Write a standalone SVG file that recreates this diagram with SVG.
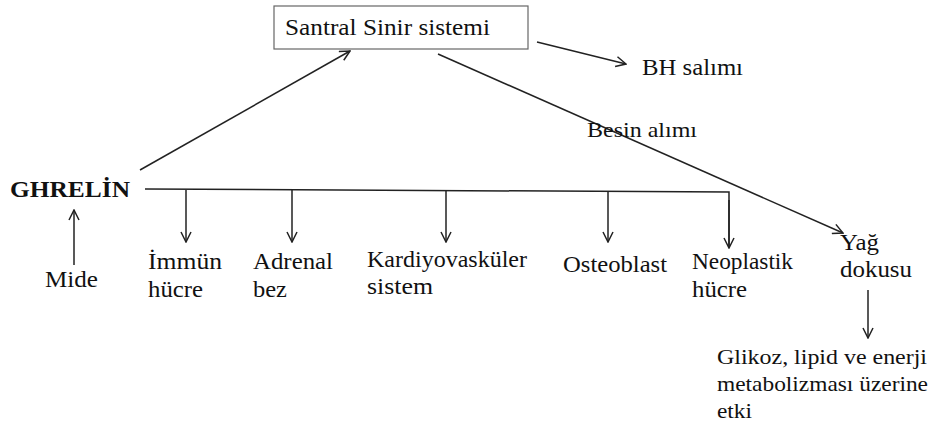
<svg xmlns="http://www.w3.org/2000/svg" width="940" height="425" viewBox="0 0 940 425">
<defs>
<style>
text{font-family:"Liberation Serif","Times New Roman",serif;fill:#111;font-size:24px}
.s{font-size:22px}
.b{font-weight:bold}
.c{stroke:#222;stroke-width:1.5;fill:none}
.a{marker-end:url(#ah)}
</style>
<marker id="ah" viewBox="0 0 12 12" refX="11" refY="6" markerWidth="12" markerHeight="12" markerUnits="userSpaceOnUse" orient="auto">
<path d="M1,1 L11,6 L1,11" fill="none" stroke="#222" stroke-width="1.5"/>
</marker>
</defs>
<rect width="940" height="425" fill="#fff"/>
<g id="connectors">
<line class="c a" x1="140" y1="170" x2="350" y2="51"/>
<line class="c a" x1="537" y1="42" x2="626" y2="64"/>
<line class="c a" x1="438" y1="54" x2="843" y2="233"/>
<polyline class="c" points="145,189 729,192 729,247"/>
<line class="c a" x1="729" y1="200" x2="729" y2="248"/>
<line class="c a" x1="186" y1="190" x2="186" y2="242"/>
<line class="c a" x1="292" y1="190" x2="292" y2="242"/>
<line class="c a" x1="446" y1="191" x2="446" y2="242"/>
<line class="c a" x1="608" y1="191" x2="608" y2="242"/>
<line class="c a" x1="74" y1="265" x2="74" y2="210"/>
<line class="c a" x1="868" y1="290" x2="868" y2="338"/>
</g>
<g id="ssn">
<rect x="274" y="6" width="254" height="43" fill="#fff" stroke="#666" stroke-width="1.2"/>
<text x="285" y="35" textLength="205" lengthAdjust="spacingAndGlyphs">Santral Sinir sistemi</text>
</g>
<g id="bh"><text x="642" y="75" textLength="101" lengthAdjust="spacingAndGlyphs">BH salımı</text></g>
<g id="besin"><text class="s" x="587" y="137" textLength="110" lengthAdjust="spacingAndGlyphs">Besin alımı</text></g>
<g id="ghrelin"><text class="b" x="10" y="197" textLength="120" lengthAdjust="spacingAndGlyphs">GHRELİN</text></g>
<g id="mide"><text x="45" y="287" textLength="53" lengthAdjust="spacingAndGlyphs">Mide</text></g>
<g id="immun"><text x="148" y="269" textLength="74" lengthAdjust="spacingAndGlyphs">İmmün</text><text x="148" y="297" textLength="55" lengthAdjust="spacingAndGlyphs">hücre</text></g>
<g id="adrenal"><text x="253" y="269" textLength="80" lengthAdjust="spacingAndGlyphs">Adrenal</text><text x="253" y="297" textLength="34" lengthAdjust="spacingAndGlyphs">bez</text></g>
<g id="kardiyo"><text x="367" y="267" textLength="160" lengthAdjust="spacingAndGlyphs">Kardiyovasküler</text><text x="367" y="294" textLength="66" lengthAdjust="spacingAndGlyphs">sistem</text></g>
<g id="osteo"><text x="563" y="272" textLength="104" lengthAdjust="spacingAndGlyphs">Osteoblast</text></g>
<g id="neo"><text x="692" y="269" textLength="101" lengthAdjust="spacingAndGlyphs">Neoplastik</text><text x="692" y="297" textLength="55" lengthAdjust="spacingAndGlyphs">hücre</text></g>
<g id="yag"><text x="840" y="250" textLength="39" lengthAdjust="spacingAndGlyphs">Yağ</text><text x="840" y="277" textLength="72" lengthAdjust="spacingAndGlyphs">dokusu</text></g>
<g id="glikoz"><text class="s" x="717" y="364" textLength="210" lengthAdjust="spacingAndGlyphs">Glikoz, lipid ve enerji</text><text class="s" x="717" y="391" textLength="211" lengthAdjust="spacingAndGlyphs">metabolizması üzerine</text><text class="s" x="717" y="418" textLength="35" lengthAdjust="spacingAndGlyphs">etki</text></g>
</svg>
